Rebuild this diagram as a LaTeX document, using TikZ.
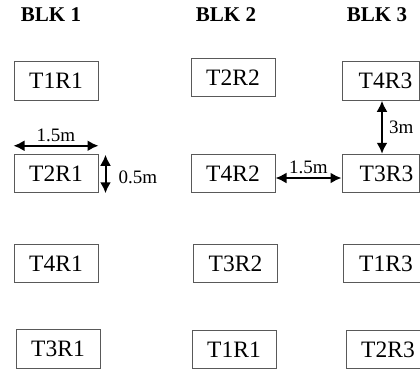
\documentclass[tikz,border=0pt]{standalone}
\usepackage{fontspec}
\setmainfont{Liberation Serif}
\usetikzlibrary{arrows.meta}
\begin{document}
\begin{tikzpicture}[x=1pt,y=-1pt,
  tbox/.style={draw=black!65, line width=1pt, minimum width=84pt, minimum height=38.5pt, inner sep=0pt, font=\fontsize{23.5}{27}\selectfont},
  rbox/.style={tbox, minimum width=77pt},
  blk/.style={font=\fontsize{21}{25}\selectfont\bfseries},
  dim/.style={line width=2pt, {Latex[length=11pt,width=11pt]}-{Latex[length=11pt,width=11pt]}},
  dimlbl/.style={font=\fontsize{19}{22}\selectfont, inner sep=0pt}]
\useasboundingbox (0,0) rectangle (420,368);
\clip (0,0) rectangle (420,368);
% titles
\node[blk] (b1) at (51,15) {BLK 1};
\node[blk] (b2) at (226,15) {BLK 2};
\node[blk] (b3) at (377,15) {BLK 3};
% column 1
\node[tbox] (c1a) at (56,81) {T1R1};
\node[tbox] (c1b) at (56,173.5) {T2R1};
\node[tbox] (c1c) at (56,263.5) {T4R1};
\node[tbox] (c1d) at (58,349) {T3R1};
% column 2
\node[tbox] (c2a) at (233,77.5) {T2R2};
\node[tbox] (c2b) at (233,173.5) {T4R2};
\node[tbox] (c2c) at (235.5,263.5) {T3R2};
\node[tbox] (c2d) at (234,349.5) {T1R1};
% column 3
\node[rbox] (c3a) at (380.5,81) {\hspace*{10pt}T4R3};
\node[rbox] (c3b) at (380.5,173.5) {\hspace*{12pt}T3R3};
\node[rbox] (c3c) at (381.5,263.5) {\hspace*{9pt}T1R3};
\node[tbox] (c3d) at (388,349.5) {T2R3};
% dimensions
\draw[dim] ([yshift=8pt]c1b.north west) -- ([yshift=8pt]c1b.north east)
  node[dimlbl, midway, above=2.5pt] (l1) {1.5m};
\draw[dim] ([xshift=7pt,yshift=-1pt]c1b.north east) -- ([xshift=7pt]c1b.south east)
  node[dimlbl, midway, right=12pt, yshift=-3pt] (l2) {0.5m};
\draw[dim] ([xshift=1.5pt]c3a.south) -- ([xshift=1.5pt]c3b.north)
  node[dimlbl, midway, right=6pt] (l3) {3m};
\draw[dim] ([yshift=-4.5pt]c2b.east) -- ([yshift=-4.5pt]c3b.west)
  node[dimlbl, midway, above=3pt] (l4) {1.5m};
\end{tikzpicture}
\end{document}
